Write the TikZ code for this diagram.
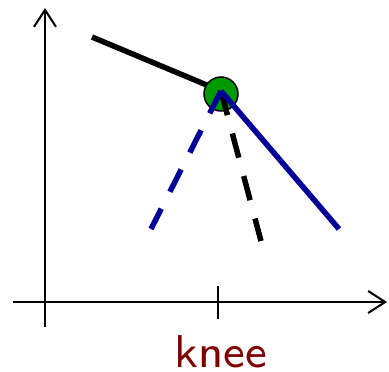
\documentclass[tikz,border=0pt]{standalone}
\usepackage{fontspec}
\newfontfamily\sseight{lmsans8-regular.otf}
\usetikzlibrary{arrows.meta}
\definecolor{kneered}{HTML}{800000}
\definecolor{lineblue}{HTML}{000099}
\definecolor{dotgreen}{HTML}{009900}
\begin{document}
\begin{tikzpicture}[x=1pt,y=-1pt,
  axis/.style={line width=2pt,-{Straight Barb[length=17pt,width=22pt,line width=2pt]}},
  thick line/.style={line width=5.5pt},
  dash line/.style={line width=5.5pt,dash pattern=on 25pt off 19pt}]
\useasboundingbox (0,0) rectangle (389,372);
\coordinate (yb) at (45,327);
\coordinate (yt) at (45,8);
\coordinate (xl) at (13,302);
\coordinate (xr) at (387,302);
\coordinate (tt) at (218,286);
\coordinate (tb) at (218,319);
\coordinate (s) at (92,37);
\coordinate (k) at (221,91);
\coordinate (bs) at (339,229);
\coordinate (bd) at (151,229);
\coordinate (kd) at (261,241);
\draw[axis] (yb) -- (yt);
\draw[axis] (xl) -- (xr);
\draw[line width=2pt] (tt) -- (tb);
\draw[thick line] (s) -- (k);
\node[circle,draw=black,line width=1.5pt,fill=dotgreen,minimum size=34pt,inner sep=0pt] (dot) at (221,94) {};
\draw[dash line,black] (k) -- (kd);
\draw[dash line,lineblue] (k) -- (bd);
\draw[thick line,lineblue] (k) -- (bs);
\node[anchor=base,text=kneered,font=\sseight\fontsize{46}{50}\selectfont,inner sep=0pt] (lbl) at (221,367) {knee};
\end{tikzpicture}
\end{document}
